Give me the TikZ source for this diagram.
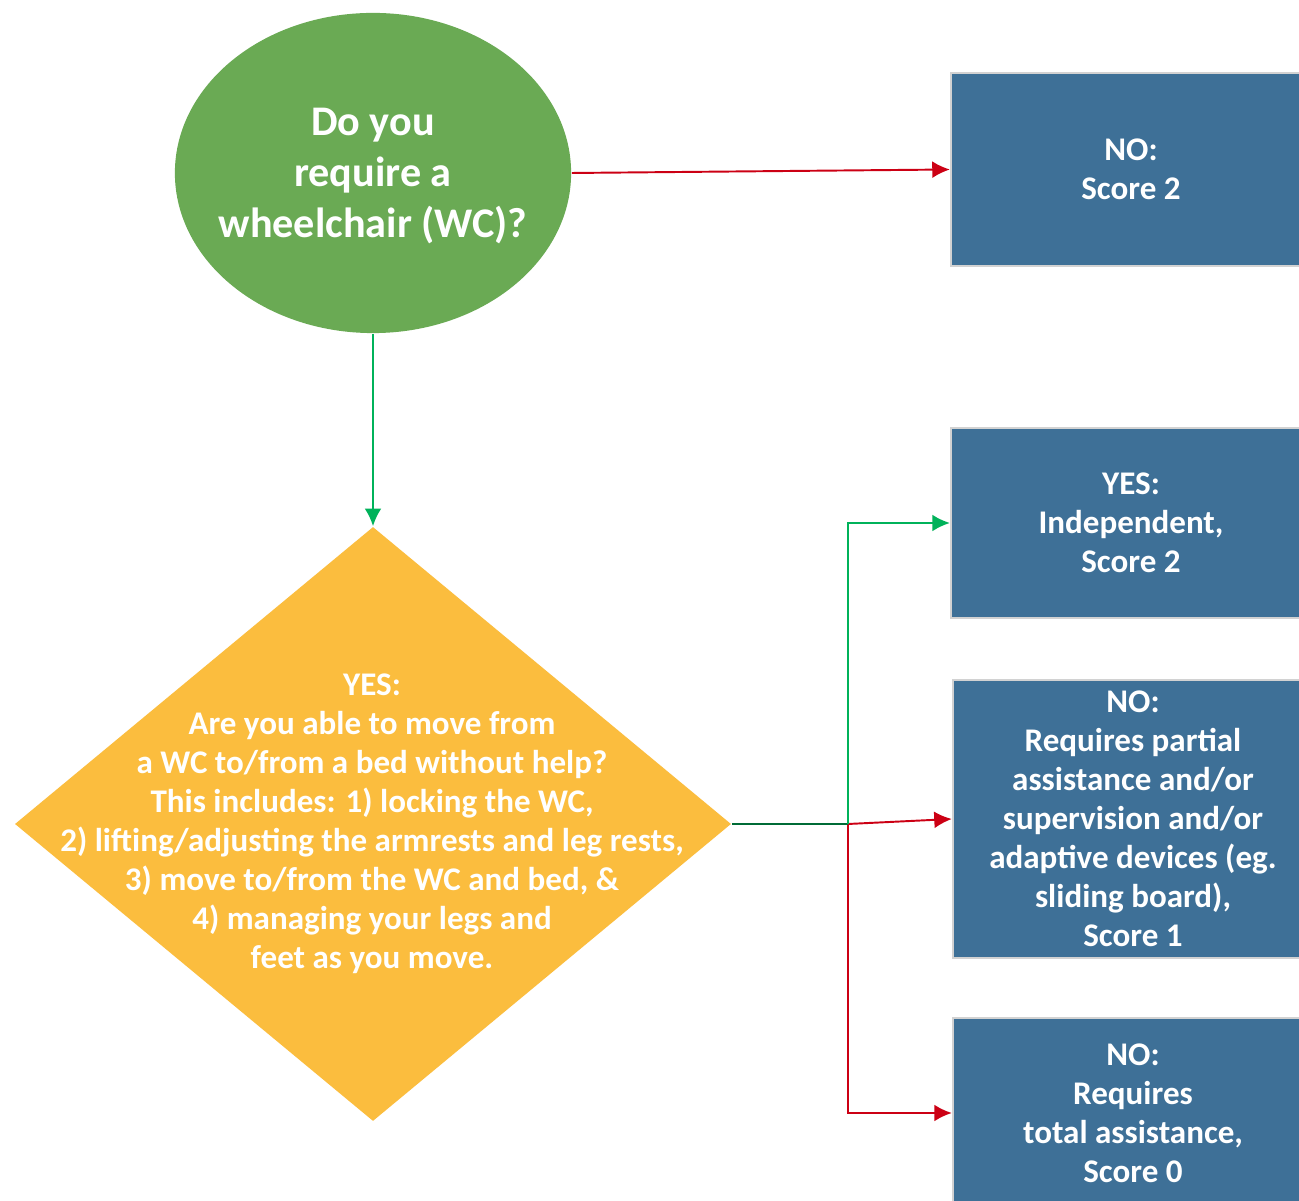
\documentclass[tikz,border=0pt]{standalone}
\usepackage{fontspec}
\setmainfont{Carlito}
\usetikzlibrary{shapes.geometric,arrows.meta}
\definecolor{qgreen}{RGB}{106,170,84}
\definecolor{qyellow}{RGB}{251,189,62}
\definecolor{ansblue}{RGB}{62,112,151}
\definecolor{yesline}{RGB}{0,178,90}
\definecolor{noline}{RGB}{204,0,20}
\tikzstyle{question}=[ellipse,fill=qgreen,minimum width=3.96cm,minimum height=3.2cm,inner sep=0pt]
\tikzstyle{check}=[diamond,fill=qyellow,minimum width=7.16cm,minimum height=5.94cm,inner sep=0pt]
\tikzstyle{answer}=[rectangle,fill=ansblue,draw=gray!35,line width=0.6pt,minimum width=3.6cm,inner sep=0pt]
\tikzstyle{bigtxt}=[text=white,align=center,font=\bfseries\fontsize{12}{14.5}\selectfont]
\tikzstyle{smalltxt}=[text=white,align=center,font=\bfseries\fontsize{9.4}{11.1}\selectfont]
\tikzstyle{arr}=[-{Latex[length=5pt,width=4.8pt]},line width=0.55pt]

\begin{document}
\begin{tikzpicture}[x=0.01cm,y=-0.01cm]
\clip (0,0) rectangle (1299,1201);
\fill[white] (0,0) rectangle (1299,1201);
% shapes
\node[question] at (373,173) (wc) {};
\node[bigtxt] at (373,176) (wctext) {Do you\\require a\\wheelchair (WC)?};
\node[check] at (373,824) (bed) {};
\node[smalltxt] at (372,824) (bedtext) {YES:\\Are you able to move from\\a WC to/from a bed without help?\\This includes: 1) locking the WC,\\2) lifting/adjusting the armrests and leg rests,\\3) move to/from the WC and bed, \&\\4) managing your legs and\\feet as you move.};
% answers
\node[answer,minimum height=1.93cm] at (1131,169.5) (nowc) {};
\node[smalltxt] at (1131,169.5) (nowctext) {NO:\\Score 2};
\node[answer,minimum height=1.9cm] at (1131,523) (indep) {};
\node[smalltxt] at (1131,523) (indeptext) {YES:\\Independent,\\Score 2};
\node[answer,minimum height=2.78cm] at (1133,819) (partial) {};
\node[smalltxt] at (1133,819) (partialtext) {NO:\\Requires partial\\assistance and/or\\supervision and/or\\adaptive devices (eg.\\sliding board),\\Score 1};
\node[answer,minimum height=1.9cm] at (1133,1113) (total) {};
\node[smalltxt] at (1133,1113) (totaltext) {NO:\\Requires\\total assistance,\\Score 0};
\coordinate (split) at (848,824);
% arrows
\draw[arr,noline] (wc.east) -- (nowc.west);
\draw[arr,yesline] (wc.south) -- (bed.north);
\draw[arr,noline] (split) -- (partial.west);
\draw[arr,noline] (split) |- (total.west);
\draw[line width=0.55pt,yesline!60!black] (bed.east) -- (split);
\draw[arr,yesline] (split) |- (indep.west);
\end{tikzpicture}
\end{document}
